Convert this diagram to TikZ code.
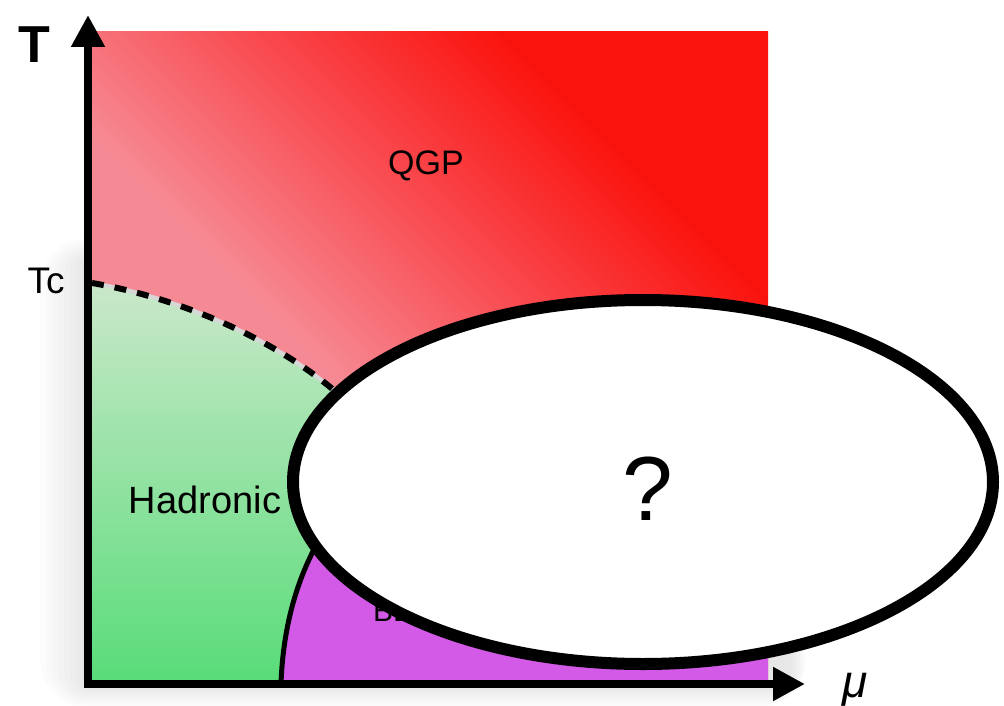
\documentclass[tikz,border=0pt]{standalone}
\usepackage{fontspec}
\setmainfont{Liberation Sans}
\usetikzlibrary{arrows.meta,shapes.geometric,shadings}
\definecolor{qgpPink}{RGB}{246,138,148}
\definecolor{qgpMid}{RGB}{249,64,68}
\definecolor{qgpRed}{RGB}{250,18,12}
\definecolor{hadTop}{RGB}{202,232,202}
\definecolor{hadMid}{RGB}{152,222,157}
\definecolor{hadBot}{RGB}{88,220,120}
\definecolor{becFill}{RGB}{210,90,230}
\definecolor{dashBack}{RGB}{215,215,215}
\pgfdeclarehorizontalshading{qgpshade}{100bp}{color(0bp)=(qgpPink); color(44bp)=(qgpPink); color(60bp)=(qgpMid); color(71bp)=(qgpRed); color(100bp)=(qgpRed)}
\tikzset{
  lbl/.style={font=\fontsize{#1}{#1}\selectfont, inner sep=0pt},
  axisline/.style={line width=8pt, line join=miter,
    {Triangle[length=32pt,width=32pt]}-{Triangle[length=32pt,width=32pt]}},
  crossover/.style={line width=6pt, dash pattern=on 12pt off 11pt},
  transition/.style={line width=5pt},
  unknown/.style={ellipse, draw, line width=12pt, fill=white,
    minimum width=700pt, minimum height=364pt, inner sep=0pt}
}
\begin{document}
\begin{tikzpicture}[x=1pt,y=-1pt]
\useasboundingbox (0,0) rectangle (1004,706);
% soft glow behind the diagram (left and bottom only)
\begin{scope}
  \clip (0,200) -- (768,200) -- (768,640) -- (1004,640) -- (1004,706) -- (0,706) -- cycle;
  \foreach \i in {1,...,8}
    \fill[black, opacity=0.011, rounded corners=6*\i] (88-6*\i,262-3*\i) rectangle (790+2*\i,684+3*\i);
\end{scope}
% QGP region
\begin{scope}
  \clip (88,32) rectangle (768,684);
  \shade[shading=qgpshade, shading angle=45] (88,18) rectangle (768,698);
\end{scope}
% Hadronic region
\shade[top color=hadTop, middle color=hadMid, bottom color=hadBot]
  (88,684) -- (88,283) .. controls (180,298) and (280,340) .. (345,400)
  -- (400,470) -- (322,535) .. controls (298,575) and (283,625) .. (281,684) -- cycle;
% BEC region
\fill[becFill] (281,684) .. controls (283,625) and (298,575) .. (322,535)
  -- (500,600) -- (768,640) -- (768,684) -- cycle;
% boundaries
\coordinate (tcpt) at (92,283);
\coordinate (cross) at (345,400);
\coordinate (tbot) at (281,684);
\coordinate (ttop) at (322,535);
\draw[dashBack, line width=4pt] (tcpt) .. controls (180,298) and (280,340) .. (cross);
\draw[crossover] (tcpt) .. controls (180,298) and (280,340) .. (cross);
\draw[transition] (tbot) .. controls (283,625) and (298,575) .. (ttop);
\node[lbl=30, anchor=base west] (bec) at (373,621) {BEC};
% unknown region
\node[unknown] (unk) at (643,482) {};
\node[lbl=91, anchor=base] (qm) at (648,520) {?};
% axes
\coordinate (ytip) at (88,15);
\coordinate (orig) at (88,684);
\coordinate (xtip) at (805,684);
\draw[axisline] (ytip) -- (orig) -- (xtip);
% labels
\node[lbl=52, font=\bfseries\fontsize{52}{52}\selectfont] (T) at (34,45) {T};
\node[lbl=37] (Tc) at (46,281) {Tc};
\node[lbl=34, anchor=base] (qgp) at (426,175) {QGP};
\node[lbl=38, anchor=base] (had) at (205,513) {Hadronic};
\node[lbl=46, anchor=base, font=\itshape\fontsize{46}{46}\selectfont] (mu) at (855,697) {μ};
\end{tikzpicture}
\end{document}
